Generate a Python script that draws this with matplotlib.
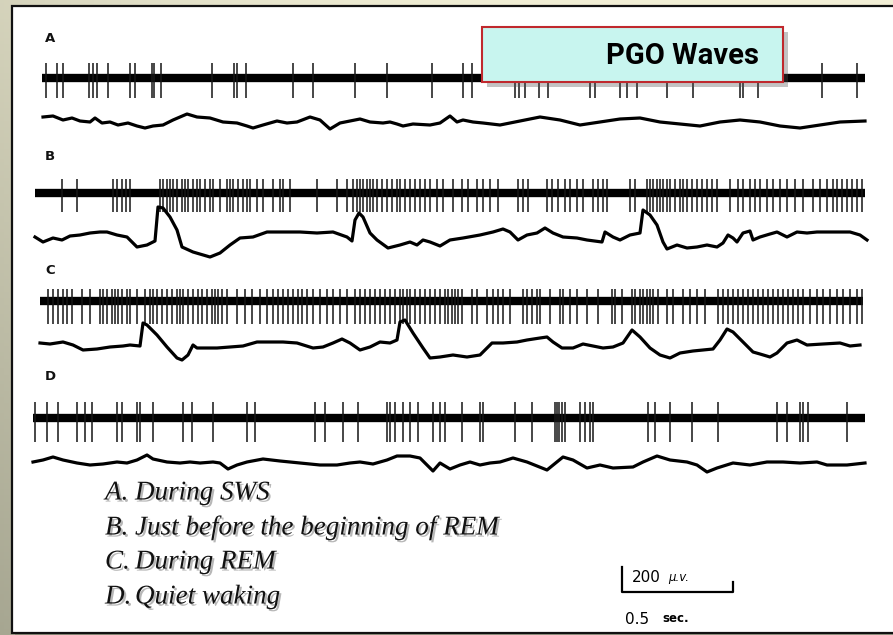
import numpy as np
import matplotlib
matplotlib.use("Agg")
import matplotlib.pyplot as plt
from matplotlib.patches import Rectangle
import matplotlib.patheffects as pe

W, H = 893, 635
SAMPLE_S = 0.5 / 111          # digitisation step of the traces (s)

# ---- data: spike sample indices per trace ----
spikes_a = [4, 15, 21, 47, 51, 55, 66, 88, 93, 110, 112, 119, 170, 192, 195, 204,
            251, 271, 313, 345, 390, 421, 430, 473, 477, 483, 497, 506, 548, 553,
            578, 585, 595, 625, 651, 698, 701, 716, 780, 815]
spikes_b = [20, 35, 71, 75, 80, 84, 88, 118, 121, 125, 128, 131, 135, 140, 143, 146,
            151, 155, 158, 163, 168, 171, 178, 185, 188, 191, 196, 201, 205, 208, 215,
            221, 231, 238, 241, 248, 275, 295, 305, 311, 315, 318, 321, 325, 328, 331,
            335, 340, 345, 350, 355, 358, 363, 368, 373, 378, 383, 388, 395, 401, 411,
            420, 426, 435, 441, 448, 456, 476, 481, 486, 505, 510, 516, 523, 528, 535,
            541, 551, 556, 561, 565, 588, 593, 605, 608, 611, 615, 618, 621, 625, 628,
            633, 638, 641, 645, 650, 655, 660, 665, 670, 675, 688, 696, 701, 708, 713,
            718, 725, 731, 738, 745, 753, 761, 771, 778, 785, 791, 795, 800, 805, 810,
            815, 820]
spikes_c = [6, 11, 16, 21, 25, 30, 40, 48, 58, 61, 65, 70, 73, 76, 80, 85, 88, 95,
            103, 108, 111, 115, 120, 125, 130, 135, 138, 141, 146, 151, 156, 160, 165,
            170, 173, 176, 180, 185, 195, 203, 210, 218, 225, 231, 236, 241, 246, 251,
            256, 260, 265, 271, 278, 285, 291, 298, 305, 313, 318, 323, 328, 333, 338,
            343, 348, 353, 358, 361, 365, 368, 373, 378, 383, 388, 393, 398, 403, 406,
            410, 413, 416, 420, 430, 435, 445, 451, 456, 461, 468, 481, 485, 490, 495,
            498, 508, 518, 521, 528, 535, 545, 556, 570, 573, 580, 590, 593, 598, 601,
            605, 608, 611, 616, 625, 631, 641, 648, 655, 663, 676, 681, 686, 691, 696,
            701, 706, 711, 716, 721, 726, 731, 736, 741, 746, 751, 756, 761, 768, 775,
            781, 788, 795, 801, 808, 815, 820]
spikes_d = [-7, 5, 16, 35, 43, 50, 75, 80, 95, 98, 111, 141, 150, 171, 205, 213, 273,
            283, 301, 316, 345, 348, 353, 361, 368, 376, 391, 398, 403, 420, 438, 441,
            473, 490, 513, 515, 517, 520, 523, 538, 543, 548, 551, 606, 613, 628, 650,
            676, 735, 745, 758, 761, 766, 805]

# spike amplitude above / below the baseline (µV)
spike_up = [120, 112, 100, 128]
spike_down = [160, 152, 180, 190]
trace_start = [0, -7, -2, -9]
trace_end = [823, 823, 821, 823]

# ---- data: slow (field potential) waves, (sample, µV) ----
slow_a = [(1, 40), (11, 48), (21, 16), (30, 32), (38, 8), (48, 0), (53, 32), (60, -8),
          (68, 0), (76, -24), (86, -8), (95, -32), (103, -48), (111, -32), (121, -24),
          (131, 16), (145, 64), (155, 40), (168, 32), (181, 0), (195, -8), (205, -32),
          (211, -48), (221, -24), (235, 8), (245, -8), (255, 0), (268, 40), (278, 16),
          (288, -56), (298, -8), (308, 8), (318, 24), (328, 0), (341, -8), (348, 0),
          (355, -16), (361, -32), (371, -16), (388, -24), (398, -8), (408, 48), (415, 0),
          (421, 16), (431, 0), (441, -8), (458, -24), (478, 8), (498, 40), (518, 16),
          (538, -24), (558, 0), (578, 24), (598, 32), (618, 0), (638, -16), (658, -32),
          (678, 0), (698, 16), (718, 0), (738, -32), (758, -48), (778, -24), (798, 0),
          (823, 8)]
slow_b = [(-7, 24), (1, -16), (11, 16), (20, 0), (28, 32), (38, 40), (48, 56), (58, 64),
          (65, 64), (75, 40), (85, 24), (95, -56), (105, -40), (113, -8), (116, 264),
          (121, 256), (128, 184), (135, 80), (140, -56), (151, -96), (168, -136),
          (178, -104), (188, -40), (198, 16), (211, 24), (225, 64), (241, 64), (258, 64),
          (275, 56), (291, 64), (305, 24), (310, -8), (313, 160), (317, 216), (321, 184),
          (328, 56), (335, 0), (346, -64), (358, -40), (368, -16), (375, -40), (381, 0),
          (388, -16), (398, -48), (408, 0), (421, 16), (438, 40), (451, 64), (461, 88),
          (468, 64), (476, 0), (485, 40), (495, 56), (503, 96), (511, 56), (521, 24),
          (535, 16), (545, 0), (560, -16), (563, 64), (571, 24), (578, 0), (588, 40),
          (598, 56), (601, 240), (608, 200), (615, 120), (621, -16), (625, -72),
          (635, -40), (645, -64), (655, -56), (665, -40), (675, -56), (681, -24),
          (686, 40), (691, 16), (695, -16), (701, 56), (708, 72), (711, 0), (718, 24),
          (728, 48), (735, 64), (745, 24), (755, 64), (765, 56), (775, 64), (788, 64),
          (808, 64), (818, 40), (825, 0)]
slow_c = [(-2, 56), (8, 48), (21, 64), (31, 40), (41, 0), (55, 8), (68, 24), (81, 32),
          (88, 40), (98, 32), (101, 216), (105, 200), (115, 120), (125, 24), (135, -64),
          (140, -80), (146, -40), (151, 40), (155, 16), (175, 16), (188, 24), (201, 32),
          (215, 64), (228, 64), (241, 64), (255, 56), (271, 16), (281, 24), (291, 56),
          (300, 88), (308, 56), (318, 0), (328, 24), (338, 64), (348, 56), (355, 80),
          (358, 224), (363, 240), (371, 136), (381, 16), (388, -64), (398, -56),
          (411, -40), (425, -56), (438, -40), (450, 56), (461, 56), (475, 64), (485, 80),
          (498, 96), (505, 104), (511, 64), (520, 16), (531, 16), (541, 48), (551, 32),
          (561, 16), (571, 24), (581, 56), (590, 160), (598, 104), (608, 16), (618, -40),
          (628, -64), (638, -24), (651, -8), (661, 0), (671, 8), (678, 80), (685, 168),
          (691, 144), (701, 64), (711, -16), (718, -32), (728, -56), (735, -24),
          (745, 56), (755, 80), (765, 40), (781, 48), (798, 56), (808, 32), (818, 40)]
slow_d = [(-9, 0), (1, 16), (11, 40), (21, 16), (35, -8), (48, -24), (61, -16), (75, 0),
          (85, -8), (95, 16), (105, 56), (111, 24), (125, 0), (138, -8), (148, 0),
          (158, -8), (171, 0), (178, -8), (186, -56), (195, -24), (205, 0), (221, 24),
          (238, 8), (258, -8), (278, -24), (295, -24), (308, -8), (318, 0), (331, -16),
          (345, 16), (355, 48), (368, 48), (378, 32), (391, -72), (398, -8), (408, -56),
          (418, -24), (428, 0), (438, -24), (448, -8), (458, 0), (471, 32), (485, 0),
          (505, -64), (521, 40), (531, 16), (545, -48), (558, -24), (571, -48),
          (591, -40), (601, 0), (615, 48), (628, 16), (645, 0), (655, -24), (665, -80),
          (675, -48), (691, -8), (708, -24), (725, 0), (741, 0), (758, -8), (775, 0),
          (785, -24), (805, -24), (823, -8)]

panel_labels = ["A", "B", "C", "D"]
legend_letters = ["A.", "B.", "C.", "D."]
legend_texts = ["During SWS", "Just before the beginning of REM", "During REM",
                "Quiet waking"]
title = "PGO Waves"
scale_uv = 200
scale_s = 0.5

# ---- layout (pixel rows of the traces) ----
unit_rows = [78, 193, 301, 418]
slow_rows = [122, 240, 350, 462]
label_rows = [39, 157, 270, 376]
legend_rows = [493, 528, 562, 597]
UV_PER_PX = 8
TOP_PX = 20


def fx(px):
    return px / W


def fy(py):
    return 1 - py / H


def row_uv(py):
    return -(py - TOP_PX) * UV_PER_PX


fig = plt.figure(figsize=(W / 100, H / 100), dpi=100)

# background slide
bg = fig.add_axes([0, 0, 1, 1])
bg.set_xlim(0, W)
bg.set_ylim(H, 0)
bg.axis("off")
yy, xx = np.mgrid[0:1:200j, 0:1:200j]
shade = np.clip(0.55 * yy + 0.35 * (1 - xx) ** 3, 0, 1)
light = np.array([0.95, 0.94, 0.84])
dark = np.array([0.62, 0.62, 0.54])
grad = light[None, None, :] * (1 - shade[..., None]) + dark[None, None, :] * shade[..., None]
bg.imshow(grad, extent=[0, W, H, 0], aspect="auto", zorder=0)
bg.add_patch(Rectangle((15, 9), 890, 628, facecolor="#777766", edgecolor="none",
                       alpha=0.5, zorder=1))
bg.add_patch(Rectangle((12, 6), 890, 627, facecolor="white", edgecolor="#111111",
                       lw=1.6, zorder=2))

# traces
ax = fig.add_axes([fx(30), fy(610), fx(850), (610 - TOP_PX) / H])
ax.set_xlim(-12 * SAMPLE_S, 838 * SAMPLE_S)
ax.set_ylim(row_uv(610), row_uv(TOP_PX))
ax.axis("off")

all_spikes = [spikes_a, spikes_b, spikes_c, spikes_d]
all_slow = [slow_a, slow_b, slow_c, slow_d]
for i in range(4):
    base = row_uv(unit_rows[i])
    t = np.array(all_spikes[i]) * SAMPLE_S
    ax.plot([trace_start[i] * SAMPLE_S, trace_end[i] * SAMPLE_S], [base, base],
            color="black", lw=6.0, solid_capstyle="butt")
    ax.vlines(t, base - spike_down[i], base + spike_up[i], color="#151515", lw=1.1)
    sw = np.array(all_slow[i], dtype=float)
    ax.plot(sw[:, 0] * SAMPLE_S, sw[:, 1] + row_uv(slow_rows[i]), color="black",
            lw=2.3, solid_joinstyle="round")
    fig.text(fx(45), fy(label_rows[i]), panel_labels[i], fontsize=9.5,
             fontweight="bold", ha="left", va="center", color="#111111")

# scale bar
x0 = 580 * SAMPLE_S
y0 = row_uv(592)
ax.plot([x0, x0, x0 + scale_s, x0 + scale_s],
        [y0 + scale_uv, y0, y0, y0 + 80], color="black", lw=1.6)
fig.text(fx(632), fy(578), f"{scale_uv}", fontsize=11, ha="left", va="center")
fig.text(fx(668), fy(578), "µ.v.", fontsize=8.5, ha="left", va="center",
         fontstyle="italic")
fig.text(fx(625), fy(620), f"{scale_s}", fontsize=11, ha="left", va="center")
fig.text(fx(662), fy(618), "sec.", fontsize=8.5, ha="left", va="center",
         fontweight="bold")

# legend text
shadow = [pe.withSimplePatchShadow(offset=(1.5, -1.5), shadow_rgbFace="#888888",
                                   alpha=0.6)]
for i in range(4):
    for txt, x in [(legend_letters[i], 105), (legend_texts[i], 135)]:
        fig.text(fx(x), fy(legend_rows[i]), txt, fontsize=19.5, fontstyle="italic",
                 family=["Liberation Serif", "DejaVu Serif"], ha="left", va="center",
                 color="#111111", path_effects=shadow)

# title box
box_ax = fig.add_axes([0, 0, 1, 1], facecolor="none")
box_ax.set_xlim(0, W)
box_ax.set_ylim(H, 0)
box_ax.axis("off")
box_ax.add_patch(Rectangle((487, 32), 301, 55, facecolor="#555555", edgecolor="none",
                           alpha=0.35))
box_ax.add_patch(Rectangle((482, 27), 301, 55, facecolor="#c8f5ef", edgecolor="#c0282d",
                           lw=1.5))
box_ax.text(683, 56, title, fontsize=21, fontweight="bold", ha="center", va="center",
            family=["Liberation Sans Narrow", "Roboto", "DejaVu Sans"])

fig.savefig("out.png", dpi=100)
